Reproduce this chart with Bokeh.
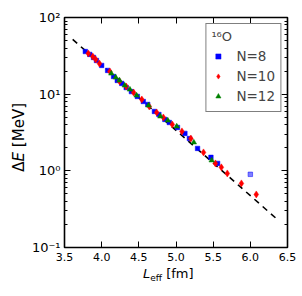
from bokeh.plotting import figure
from bokeh.layouts import row, column
from bokeh.models import (LinearAxis, LogAxis, FixedTicker, Legend, LegendItem,
                          Div, PrintfTickFormatter)
from bokeh.embed import file_html
from bokeh.resources import INLINE

# ---- data ----
n8_L = [3.78, 3.84, 3.89, 3.93, 4.00, 4.08, 4.16, 4.21, 4.27, 4.33, 4.40, 4.48,
        4.56, 4.62, 4.71, 4.77, 4.85, 4.91, 5.02, 5.12, 5.18, 5.29, 5.47, 5.56]
n8_E = [36.0, 33.0, 30.1, 27.5, 23.7, 20.4, 17.0, 15.1, 13.8, 12.2, 10.8, 9.33,
        8.03, 7.34, 5.95, 5.43, 4.68, 4.27, 3.68, 3.08, 2.64, 1.96, 1.50, 1.25]
n8_out_L = [6.00]
n8_out_E = [0.90]

n10_L = [3.82, 3.88, 3.92, 3.97, 4.11, 4.24, 4.33, 4.43, 4.54, 4.64, 4.74, 4.83,
         4.95, 5.08, 5.20, 5.37, 5.53, 5.61, 5.69, 5.88, 6.08]
n10_E = [34.0, 31.0, 28.3, 25.1, 19.8, 14.7, 12.6, 10.5, 8.53, 6.92, 5.77, 4.97,
         4.02, 3.27, 2.64, 1.74, 1.25, 1.11, 0.925, 0.686, 0.492]

n12_L = [4.13, 4.19, 4.24, 4.31, 4.38, 4.47, 4.63, 4.79, 4.89, 5.01, 5.24, 5.48]
n12_E = [18.6, 16.5, 15.1, 13.0, 11.5, 9.62, 7.13, 5.12, 4.54, 3.80, 2.35, 1.37]

fit_L = [3.61, 6.38]
fit_E = [51.7, 0.225]

x_ticks = [3.5, 4.0, 4.5, 5.0, 5.5, 6.0, 6.5]
y_ticks = [0.1, 1, 10, 100]
y_tick_labels = ["10\u207b\u00b9", "10\u2070", "10\u00b9", "10\u00b2"]
legend_title = "\u00b9\u2076O"
series_names = ["N=8", "N=10", "N=12"]

FONT = "DejaVu Sans"

y_minor = [m * 10 ** e for e in (-1, 0, 1) for m in range(2, 10)]

p = figure(frame_width=223, frame_height=230, y_axis_type="log",
           x_range=(3.5, 6.5), y_range=(0.1, 100),
           output_backend="svg", toolbar_location=None,
           min_border_left=33, min_border_right=18, min_border_top=17,
           min_border_bottom=20, margin=0)
p.grid.visible = False
p.outline_line_color = "black"
p.outline_line_width = 1.6
p.background_fill_color = "white"
p.border_fill_color = "white"

def style_axis(ax):
    ax.axis_line_color = None
    ax.major_tick_in = 6
    ax.major_tick_out = 0
    ax.minor_tick_in = 3
    ax.minor_tick_out = 0
    ax.major_tick_line_color = "black"
    ax.minor_tick_line_color = "black"
    ax.major_label_text_font = FONT
    ax.major_label_text_font_size = "11px"
    ax.major_label_text_color = "black"

xt = FixedTicker(ticks=x_ticks, minor_ticks=[])
yt = FixedTicker(ticks=y_ticks, minor_ticks=y_minor)

p.xaxis.ticker = xt
p.xaxis.formatter = PrintfTickFormatter(format="%.1f")
p.yaxis.ticker = yt
p.yaxis.major_label_overrides = {t: s for t, s in zip(y_ticks, y_tick_labels)}
for ax in p.xaxis + p.yaxis:
    style_axis(ax)
p.yaxis.major_label_text_font_size = "13px"
p.xaxis.major_label_standoff = 5
p.yaxis.major_label_standoff = 4

top = LinearAxis(ticker=xt)
style_axis(top)
top.major_label_overrides = {t: "" for t in x_ticks}
top.major_label_standoff = 0
right = LogAxis(ticker=yt)
style_axis(right)
right.major_label_overrides = {t: "" for t in y_ticks}
right.major_label_standoff = 0
p.add_layout(top, "above")
p.add_layout(right, "right")

# fit line
p.line(fit_L, fit_E, line_color="black", line_width=1.6, line_dash="6 5")

r8 = p.scatter(n8_L, n8_E, marker="square", size=4.5, fill_color="#0000ff",
               line_color="#0000ff", line_width=0.5)
p.scatter(n8_out_L, n8_out_E, marker="square", size=4.5, fill_color="#0000ff",
          line_color="#0000ff", alpha=0.5)
r10 = p.scatter(n10_L, n10_E, marker="diamond", size=7, fill_color="#ff0000",
                line_color="#ff0000", line_width=0.5)
r12 = p.scatter(n12_L, n12_E, marker="triangle", size=5.5, fill_color="#008000",
                line_color="#008000", line_width=0.5)

legend = Legend(items=[LegendItem(label=series_names[0], renderers=[r8]),
                       LegendItem(label=series_names[1], renderers=[r10]),
                       LegendItem(label=series_names[2], renderers=[r12])],
                location="top_right", title=legend_title)
legend.title_text_font = FONT
legend.title_text_font_size = "13px"
legend.title_text_font_style = "normal"
legend.title_standoff = 2
legend.label_text_font = FONT
legend.label_text_font_size = "13.5px"
legend.border_line_color = "black"
legend.border_line_width = 1.2
legend.padding = 5
legend.spacing = 0
legend.margin = 6
legend.glyph_width = 13
legend.glyph_height = 20
legend.label_height = 20
legend.label_standoff = 12
legend.background_fill_alpha = 1
p.add_layout(legend)

# axis titles as real (HTML) text with italics and subscript
x_title = Div(width=274, height=29, margin=0, text=(
    '<div style="position:relative;width:274px;height:29px;">'
    '<div style="position:absolute;left:115px;top:-1px;white-space:nowrap;'
    'font-family:\'DejaVu Sans\';font-size:13px;line-height:15px;color:black;">'
    '<i>L</i><span style="font-size:9px;position:relative;top:3px;">eff</span> [fm]'
    '</div></div>'))
y_title = Div(width=28, height=296, margin=0, text=(
    '<div style="position:relative;width:28px;height:296px;">'
    '<div style="position:absolute;left:12px;top:103px;white-space:nowrap;'
    'writing-mode:vertical-rl;transform:rotate(180deg);'
    'font-family:\'DejaVu Sans\';font-size:15px;line-height:15px;color:black;">'
    '\u0394<i>E</i> [MeV]'
    '</div></div>'))

layout = row(y_title, column(p, x_title, spacing=0, margin=0), spacing=0, margin=0)

open("out.html", "w").write(file_html(layout, INLINE))
